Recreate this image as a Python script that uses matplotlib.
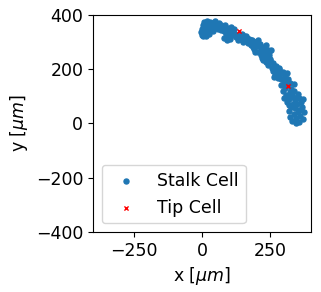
import matplotlib
matplotlib.use("Agg")
import matplotlib.pyplot as plt

# stalk cell positions (um), listed along the sprout
stalk_x = [-6, -2, 0, 3, 5, 8, 10, 12, 15, 18, 20, 22, 25, 28, 30, 33, 36, 40, 44, 48,
           52, 56, 60, 64, 68, 70, 2, 14, 26, 38, 50, 62,
           74, 78, 82, 86, 90, 94, 98, 102, 106, 110, 114, 118, 122, 80, 92, 100, 112, 120,
           128, 132, 138, 142, 148, 152, 158, 162, 168, 172, 178, 182, 188, 192, 198,
           145, 165, 185,
           178, 184, 190, 195, 200, 205, 210, 215, 220, 225, 230, 235, 240, 245, 250,
           192, 206, 218, 232, 246,
           215, 222, 228, 235, 242, 248, 255, 260, 265, 270, 275, 280, 238, 252, 268, 258,
           262, 270, 278, 285, 290, 295, 300, 305, 310, 315, 320, 282, 298, 312,
           290, 296, 302, 308, 314, 320, 326, 332, 338, 344, 300, 318, 336,
           310, 318, 325, 332, 340, 348, 355, 362, 368, 328, 350,
           318, 322, 326, 330, 335, 340, 345, 350, 355, 360, 364, 368, 372, 342, 356, 332]
stalk_y = [335, 348, 325, 360, 372, 340, 355, 368, 330, 378, 350, 362, 338, 372, 355, 345, 368, 360, 352, 375,
           365, 348, 370, 358, 345, 362, 320, 322, 328, 340, 358, 350,
           355, 340, 362, 328, 350, 318, 345, 330, 355, 338, 325, 348, 318, 315, 308, 312, 335, 330,
           318, 305, 325, 312, 298, 320, 308, 322, 295, 312, 290, 305, 298, 285, 300,
           330, 315, 282,
           308, 295, 275, 298, 285, 262, 292, 275, 255, 280, 262, 245, 270, 250, 238,
           262, 305, 240, 290, 262,
           250, 232, 242, 225, 215, 232, 205, 222, 190, 210, 185, 200, 250, 268, 178, 192,
           172, 195, 168, 180, 162, 190, 155, 175, 145, 165, 150, 205, 140, 185,
           140, 120, 130, 105, 140, 115, 128, 98, 118, 92, 95, 88, 145,
           80, 68, 100, 72, 85, 70, 95, 80, 88, 110, 108,
           45, 25, 60, 10, 35, 55, 18, 42, 5, 28, 62, 15, 40, 0, 50, 65]

# tip cell positions (um)
tip_x = [136, 316]
tip_y = [340, 138]

plt.rcParams['font.size'] = 12.5

fig = plt.figure(figsize=(3.21, 2.92), dpi=100)
ax = fig.add_axes((0.29, 0.205, 0.68, 0.745))

ax.scatter(stalk_x, stalk_y, s=13, color="C0", label="Stalk Cell")
ax.scatter(tip_x, tip_y, s=9, marker="x", color="red", linewidths=1, label="Tip Cell")

ax.set_xlim(-400, 400)
ax.set_ylim(-400, 400)
ax.set_xticks([-250, 0, 250])
ax.set_yticks([-400, -200, 0, 200, 400])
ax.set_xlabel(r"x [$\mu m$]")
ax.set_ylabel(r"y [$\mu m$]")
ax.legend(loc="lower left")

fig.savefig("out.png", dpi=100)
